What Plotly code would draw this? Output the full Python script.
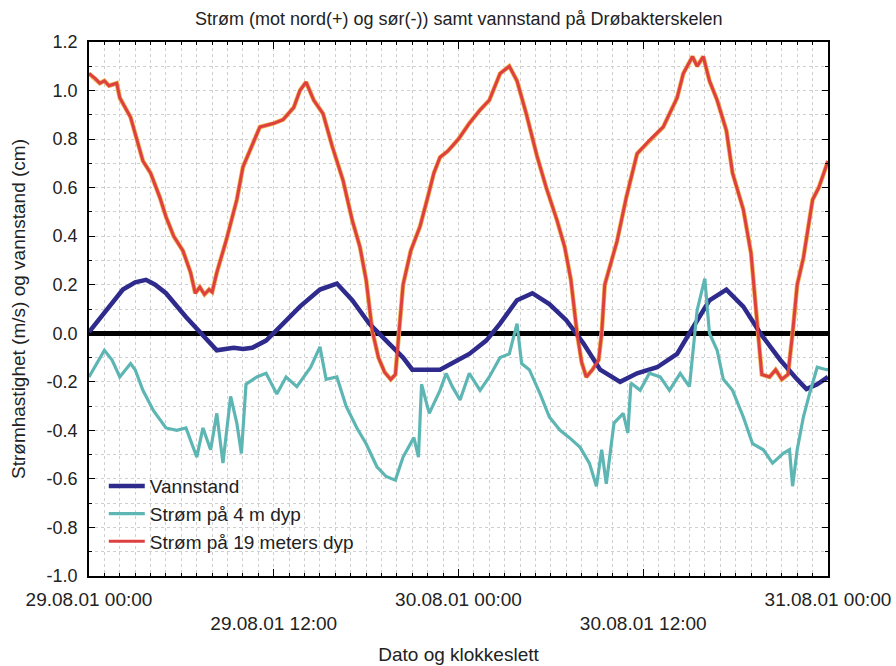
import pandas as pd
import plotly.graph_objects as go

START = pd.Timestamp("2001-08-29 00:00")

# Vannstand (hours since 29.08.01 00:00, value)
vann_h = [0, 1.15, 2.2, 3.0, 3.7, 4.3, 5.0, 6.3, 7.2, 8.3, 9.4, 10.0, 10.6, 11.5, 12.4, 13.7,
          15.0, 16.1, 17.1, 18.2, 19.3, 20.4, 21.0, 22.0, 22.8, 23.4, 24.7, 25.8, 26.7, 27.8,
          28.8, 29.9, 31.0, 32.1, 33.2, 34.5, 35.6, 36.9, 38.2, 39.0, 40.3, 41.4, 42.5, 43.6,
          44.9, 46.0, 46.6, 47.3, 48.0]
vann_v = [0.005, 0.095, 0.18, 0.21, 0.22, 0.20, 0.165, 0.067, 0.005, -0.07, -0.06, -0.065, -0.06,
          -0.03, 0.026, 0.11, 0.18, 0.205, 0.136, 0.04, -0.03, -0.10, -0.15, -0.15, -0.15, -0.13,
          -0.085, -0.03, 0.04, 0.136, 0.165, 0.12, 0.054, -0.04, -0.15, -0.20, -0.165, -0.14,
          -0.085, 0.0, 0.136, 0.18, 0.11, 0.0, -0.11, -0.19, -0.23, -0.21, -0.18]

# Strøm på 4 m dyp
s4_h = [0.0, 0.5, 1.0, 1.5, 2.0, 2.7, 3.0, 3.5, 4.2, 5.0, 5.7, 6.3, 7.0, 7.4, 7.9, 8.3, 8.7, 9.2,
        9.6, 9.9, 10.2, 10.9, 11.5, 12.2, 12.8, 13.5, 14.4, 15.0, 15.4, 16.1, 16.7, 17.4, 18.0,
        18.7, 19.3, 19.9, 20.4, 21.1, 21.4, 21.6, 22.1, 22.8, 23.2, 23.6, 24.1, 24.7, 25.4, 26.0,
        26.7, 27.3, 27.8, 28.1, 28.6, 29.3, 29.9, 30.6, 31.2, 31.9, 32.5, 32.96, 33.3, 33.6, 34.1,
        34.7, 35.0, 35.2, 35.8, 36.4, 37.1, 37.7, 38.4, 39.0, 39.5, 40.0, 40.3, 40.8, 41.2, 41.8,
        42.5, 43.1, 43.8, 44.4, 45.1, 45.5, 45.7, 46.0, 46.4, 46.8, 47.3, 47.9, 48.0]
s4_v = [-0.18, -0.125, -0.07, -0.11, -0.18, -0.125, -0.15, -0.235, -0.32, -0.39, -0.40, -0.39,
        -0.51, -0.39, -0.48, -0.33, -0.535, -0.26, -0.37, -0.495, -0.21, -0.18, -0.165, -0.25,
        -0.18, -0.22, -0.14, -0.056, -0.19, -0.18, -0.30, -0.39, -0.455, -0.55, -0.59, -0.605,
        -0.51, -0.43, -0.51, -0.21, -0.33, -0.235, -0.165, -0.22, -0.275, -0.165, -0.235, -0.18,
        -0.10, -0.085, 0.04, -0.125, -0.15, -0.25, -0.345, -0.40, -0.43, -0.47, -0.535, -0.63,
        -0.48, -0.62, -0.37, -0.33, -0.41, -0.205, -0.235, -0.165, -0.18, -0.235, -0.165, -0.22,
        0.095, 0.225, 0.0, -0.07, -0.19, -0.235, -0.345, -0.455, -0.48, -0.535, -0.495, -0.48,
        -0.63, -0.48, -0.345, -0.25, -0.14, -0.15, -0.15]

# Strøm på 19 meters dyp
s19_h = [0.0, 0.4, 0.7, 1.0, 1.3, 1.8, 2.0, 2.7, 3.1, 3.5, 4.0, 4.6, 5.0, 5.5, 6.1, 6.6, 6.9, 7.2,
         7.5, 7.8, 8.0, 8.3, 8.9, 9.6, 10.0, 10.45, 11.1, 12.0, 12.6, 13.3, 13.7, 14.1, 14.6, 15.2,
         15.8, 16.5, 17.1, 17.6, 18.0, 18.4, 18.8, 19.2, 19.6, 19.9, 20.1, 20.4, 20.9, 21.5, 22.0,
         22.4, 22.8, 23.3, 24.0, 24.7, 25.4, 26.0, 26.7, 27.3, 27.8, 28.4, 29.1, 29.7, 30.4, 30.9,
         31.3, 31.7, 32.0, 32.3, 32.7, 33.1, 33.3, 33.5, 34.3, 34.9, 35.6, 36.4, 37.3, 38.2, 38.6,
         39.2, 39.5, 39.9, 40.3, 40.8, 41.4, 41.8, 42.5, 43.0, 43.4, 43.7, 44.2, 44.6, 45.0, 45.4,
         45.7, 46.0, 46.4, 47.0, 47.4, 48.0]
s19_v = [1.07, 1.05, 1.03, 1.04, 1.02, 1.03, 0.97, 0.89, 0.80, 0.71, 0.66, 0.56, 0.48, 0.40, 0.34,
         0.25, 0.165, 0.19, 0.16, 0.18, 0.17, 0.25, 0.38, 0.55, 0.685, 0.75, 0.85, 0.865, 0.88,
         0.93, 1.0, 1.035, 0.96, 0.905, 0.77, 0.63, 0.465, 0.355, 0.22, 0.01, -0.10, -0.16, -0.19,
         -0.17, -0.03, 0.20, 0.34, 0.44, 0.56, 0.66, 0.725, 0.75, 0.80, 0.865, 0.92, 0.96, 1.07,
         1.10, 1.04, 0.905, 0.73, 0.60, 0.465, 0.355, 0.22, 0.0, -0.12, -0.18, -0.15, -0.11, 0.0,
         0.20, 0.38, 0.56, 0.74, 0.795, 0.85, 0.97, 1.07, 1.14, 1.10, 1.14, 1.04, 0.96, 0.835,
         0.66, 0.51, 0.33, 0.04, -0.17, -0.18, -0.15, -0.19, -0.17, 0.0, 0.20, 0.31, 0.55, 0.60,
         0.71]

x_tick_hours = [0, 12, 24, 36, 48]
x_tick_labels = ["29.08.01 00:00", "29.08.01 12:00", "30.08.01 00:00",
                 "30.08.01 12:00", "31.08.01 00:00"]
y_ticks = [-1.0, -0.8, -0.6, -0.4, -0.2, 0.0, 0.2, 0.4, 0.6, 0.8, 1.0, 1.2]


def to_time(hours):
    return [START + pd.Timedelta(hours=h) for h in hours]


FONT = "Liberation Sans, Arial, Helvetica, sans-serif"
fig = go.Figure()
fig.add_trace(go.Scatter(x=to_time(s19_h), y=s19_v, mode="lines", showlegend=False,
                         line=dict(color="#f0b050", width=4.5), hoverinfo="skip"))
fig.add_trace(go.Scatter(x=to_time(vann_h), y=vann_v, mode="lines", name="Vannstand",
                         line=dict(color="#2e2b8c", width=4.5)))
fig.add_trace(go.Scatter(x=to_time(s4_h), y=s4_v, mode="lines", name="Strøm på 4 m dyp",
                         line=dict(color="#5db6b4", width=3.2)))
fig.add_trace(go.Scatter(x=to_time(s19_h), y=s19_v, mode="lines", name="Strøm på 19 meters dyp",
                         line=dict(color="#de4040", width=3)))

xt = to_time(x_tick_hours)
xtext = [t if i % 2 == 0 else "<br>" + t for i, t in enumerate(x_tick_labels)]

grid = dict(gridcolor="#cfcfcf", griddash="dot", gridwidth=1)
fig.update_layout(
    width=896, height=666,
    margin=dict(l=89, r=68, t=42, b=90),
    paper_bgcolor="white", plot_bgcolor="white",
    font=dict(family=FONT, size=19, color="#222"),
    title=dict(text="Strøm (mot nord(+) og sør(-)) samt vannstand på Drøbakterskelen",
               x=0.512, xanchor="center", y=0.972, yanchor="middle",
               font=dict(family=FONT, size=18, color="#222")),
    legend=dict(x=0.02, y=0.204, xanchor="left", yanchor="top", bgcolor="rgba(0,0,0,0)",
                font=dict(family=FONT, size=19, color="#222"), itemwidth=36, tracegroupgap=0),
    xaxis=dict(type="date", range=[xt[0], xt[-1]], tickmode="array", tickvals=xt,
               ticktext=xtext, ticks="inside", ticklen=7, tickcolor="black",
               ticklabelstandoff=5, tickfont=dict(family=FONT, size=19, color="#222"),
               automargin=False,
               showline=True, linecolor="black", linewidth=1.5, mirror="ticks",
               showgrid=True, **grid,
               minor=dict(dtick=3600000, tick0=xt[0], showgrid=True, ticks="inside",
                          ticklen=3, tickcolor="black", **grid),
               title=dict(text="Dato og klokkeslett", standoff=14,
                          font=dict(family=FONT, size=19, color="#222")),
               zeroline=False),
    yaxis=dict(range=[-1.0, 1.2], tickmode="array", tickvals=y_ticks,
               ticktext=[f"{v:.1f}" for v in y_ticks],
               ticks="inside", ticklen=6, tickcolor="black", automargin=False,
               ticklabelstandoff=6, tickfont=dict(family=FONT, size=18, color="#222"),
               showline=True, linecolor="black", linewidth=1.5, mirror="ticks",
               showgrid=True, **grid,
               minor=dict(dtick=0.1, tick0=0, showgrid=True, ticks="inside",
                          ticklen=3, tickcolor="black", **grid),
               title=dict(text="Strømhastighet (m/s) og vannstand (cm)", standoff=16,
                          font=dict(family=FONT, size=19, color="#222")),
               zeroline=True, zerolinecolor="black", zerolinewidth=5),
)

fig.write_html("out.html")
